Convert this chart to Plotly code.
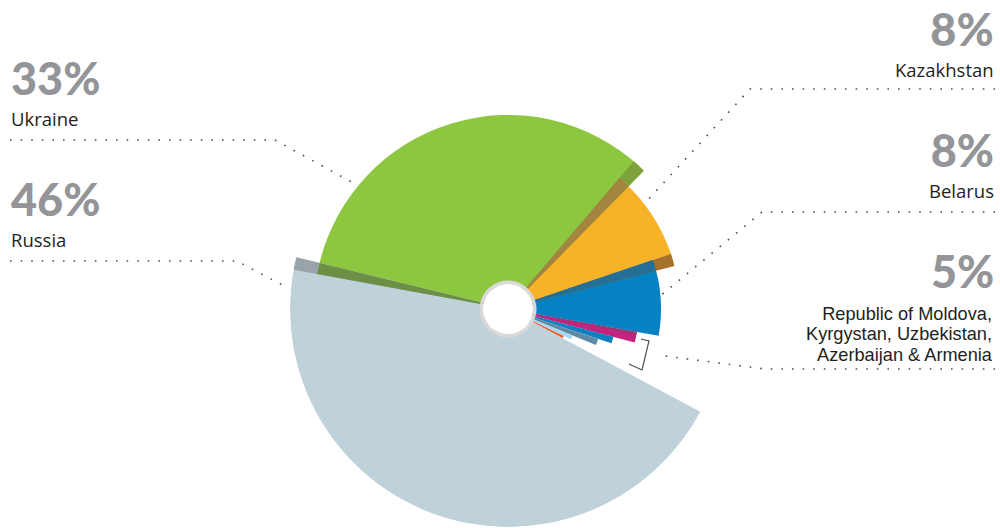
import plotly.graph_objects as go

# ---- data ----
countries = ["Ukraine", "Kazakhstan", "Belarus", "Republic of Moldova",
             "Kyrgystan", "Uzbekistan", "Azerbaijan", "Armenia", "Russia"]
shares = [33, 8, 8, 1.3, 1.0, 1.1, 1.0, 0.6, 46]

label_pcts = ["33%", "46%", "8%", "8%", "5%"]
label_names = ["Ukraine", "Russia", "Kazakhstan", "Belarus"]
others_lines = ["Republic of Moldova,", "Kyrgystan, Uzbekistan,", "Azerbaijan & Armenia"]

# ---- styling ----
radii = [194, 172, 153, 131, 109, 95, 70, 62, 218]
colors = ["#8dc63f", "#f7b228", "#0482c4", "#c2237f", "#0c80c1",
          "#5d88a6", "#a9d8f0", "#f15a24", "#bfd1d9"]
HOLE = 25
RMAX = 218
W, H = 1000, 528
CX, CY = 508, 309

deg = [s * 3.6 for s in shares]
starts = []
acc = 0
for d in deg:
    starts.append(acc)
    acc += d
centers = [s + d / 2 for s, d in zip(starts, deg)]

fig = go.Figure()
fig.add_trace(go.Barpolar(
    theta=centers, width=deg, r=radii, base=0,
    marker=dict(color=colors, line=dict(width=0)),
    hovertext=countries, showlegend=False))

# 3D-looking side faces at slice boundaries (boundary index, offset start, offset end, radius, colour)
faces = [
    (0, -3.3, 0.0, 218, "#9ba3aa"),
    (0, -3.3, 0.0, 194, "#6b8f45"),
    (1, -2.1, 2.0, 194, "#7ea33a"),
    (1, -2.1, 2.0, 172, "#a3853f"),
    (2, 0.0, 4.2, 172, "#a7722a"),
    (2, 0.0, 4.2, 153, "#246f96"),
    (3, 0.0, 1.0, 131, "#8f3d70"),
]
for bi, o0, o1, rr, col in faces:
    b = starts[bi]
    fig.add_trace(go.Barpolar(
        theta=[b + (o0 + o1) / 2], width=[o1 - o0], r=[rr], base=0,
        marker=dict(color=col, line=dict(width=0)),
        hoverinfo="skip", showlegend=False))

# grey ring around the hole (r is the length above base)
fig.add_trace(go.Barpolar(
    theta=[90, 270], width=[180, 180], r=[3.5, 3.5], base=[HOLE, HOLE],
    marker=dict(color="#d9d9d9", line=dict(width=0)),
    hoverinfo="skip", showlegend=False))

fig.update_layout(
    width=W, height=H,
    margin=dict(l=0, r=0, t=0, b=0),
    paper_bgcolor="white", plot_bgcolor="white",
    polar=dict(
        domain=dict(x=[(CX - RMAX) / W, (CX + RMAX) / W],
                    y=[1 - (CY + RMAX) / H, 1 - (CY - RMAX) / H]),
        hole=HOLE / RMAX,
        bgcolor="rgba(0,0,0,0)",
        radialaxis=dict(range=[HOLE, RMAX], visible=False, showgrid=False,
                        showline=False),
        angularaxis=dict(visible=False, showgrid=False, showline=False,
                         direction="clockwise", rotation=166.3),
    ),
)


def px(x):
    return x / W


def py(y):
    return 1 - y / H


PCT_STYLE = "font-family:Lato;font-size:45px;font-weight:900;color:#939598"
NAME_STYLE = "font-size:18.5px"


def group(pct, name):
    return (f'<span style="{PCT_STYLE}">{pct}</span><br>'
            f'<span style="{NAME_STYLE}">{name}</span>')


GROUP_FONT = dict(family="Open Sans", size=23.5, color="#231f20")

ann = [
    dict(text=group(label_pcts[0], label_names[0]), x=px(9), y=py(91),
         xanchor="left", yanchor="middle", align="left", font=GROUP_FONT),
    dict(text=group(label_pcts[1], label_names[1]), x=px(9), y=py(212),
         xanchor="left", yanchor="middle", align="left", font=GROUP_FONT),
    dict(text=group(label_pcts[2], label_names[2]), x=px(996), y=py(42),
         xanchor="right", yanchor="middle", align="right", font=GROUP_FONT),
    dict(text=group(label_pcts[3], label_names[3]), x=px(996), y=py(163),
         xanchor="right", yanchor="middle", align="right", font=GROUP_FONT),
    dict(text=f'<span style="{PCT_STYLE}">{label_pcts[4]}</span>', x=px(996), y=py(271),
         xanchor="right", yanchor="middle", align="right", font=GROUP_FONT),
    dict(text="<br>".join(f'<span style="font-size:18.2px">{t}</span>' for t in others_lines),
         x=px(995), y=py(334), xanchor="right", yanchor="middle", align="right",
         font=dict(family="Liberation Sans", size=15.7, color="#231f20")),
]
for a in ann:
    a.update(xref="paper", yref="paper", showarrow=False)
fig.update_layout(annotations=ann)

# dotted leader lines
leaders = [
    [(10, 140), (275, 140), (357, 185)],
    [(10, 261), (237, 261), (284, 286)],
    [(995, 89), (750, 89), (645, 203)],
    [(995, 212), (762, 212), (660, 296)],
    [(995, 369), (765, 369), (657, 355)],
]
shapes = []
for pts in leaders:
    path = "M " + " L ".join(f"{px(x):.5f},{py(y):.5f}" for x, y in pts)
    shapes.append(dict(type="path", path=path, xref="paper", yref="paper",
                       line=dict(color="#4d4e50", width=1.6, dash="1.6px,9px")))
bracket = [(641, 339), (649, 341), (642, 370), (629, 364)]
shapes.append(dict(type="path",
                   path="M " + " L ".join(f"{px(x):.5f},{py(y):.5f}" for x, y in bracket),
                   xref="paper", yref="paper",
                   line=dict(color="#4d4e50", width=1.2)))
fig.update_layout(shapes=shapes)

fig.write_html("out.html", config={"displayModeBar": False},
               post_script="document.body.style.margin='0';")
